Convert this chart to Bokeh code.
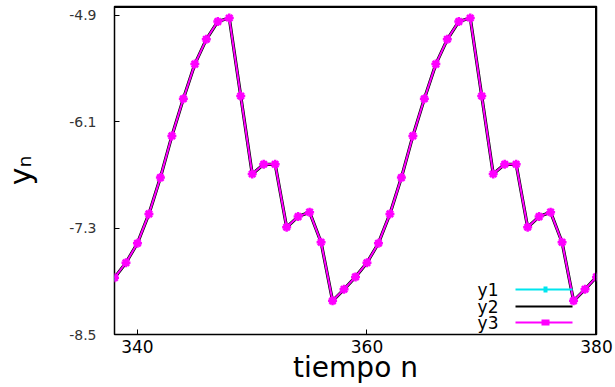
from bokeh.plotting import figure
from bokeh.models import Range1d, FixedTicker, Label, BoxAnnotation
from bokeh.embed import file_html
from bokeh.resources import INLINE

# ---- data ----
n = list(range(338, 381))
y1 = [-7.86, -7.69, -7.47, -7.14, -6.73, -6.26, -5.84, -5.45, -5.17, -4.97, -4.93,
      -5.81, -6.69, -6.58, -6.58, -7.29, -7.17, -7.12, -7.46, -8.12, -7.99,
      -7.85, -7.69, -7.47, -7.14, -6.73, -6.26, -5.84, -5.45, -5.17, -4.97, -4.93,
      -5.81, -6.69, -6.58, -6.58, -7.29, -7.17, -7.12, -7.46, -8.12, -7.99, -7.85]
y2 = [-7.86, -7.69, -7.47, -7.14, -6.73, -6.26, -5.84, -5.45, -5.17, -4.97, -4.93,
      -5.81, -6.69, -6.58, -6.58, -7.29, -7.17, -7.12, -7.46, -8.12, -7.99,
      -7.85, -7.69, -7.47, -7.14, -6.73, -6.26, -5.84, -5.45, -5.17, -4.97, -4.93,
      -5.81, -6.69, -6.58, -6.58, -7.29, -7.17, -7.12, -7.46, -8.12, -7.99, -7.85]
y3 = [-7.86, -7.69, -7.47, -7.14, -6.73, -6.26, -5.84, -5.45, -5.17, -4.97, -4.93,
      -5.81, -6.69, -6.58, -6.58, -7.29, -7.17, -7.12, -7.46, -8.12, -7.99,
      -7.85, -7.69, -7.47, -7.14, -6.73, -6.26, -5.84, -5.45, -5.17, -4.97, -4.93,
      -5.81, -6.69, -6.58, -6.58, -7.29, -7.17, -7.12, -7.46, -8.12, -7.99, -7.85]
x_ticks = [340, 360, 380]
y_ticks = [-8.5, -7.3, -6.1, -4.9]
x_lim = (338, 380)
y_lim = (-8.5, -4.80)
series_names = ["y1", "y2", "y3"]
series_colors = ["#00e5ee", "black", "#ff00ff"]

FONT = "DejaVu Sans"
W, H = 615, 387

p = figure(width=W, height=H, output_backend="svg", toolbar_location=None,
           x_range=Range1d(*x_lim), y_range=Range1d(*y_lim),
           min_border_left=113, min_border_right=19, min_border_top=6,
           min_border_bottom=53)
p.background_fill_color = "white"
p.border_fill_color = "white"
p.outline_line_color = "black"
p.outline_line_width = 1.5
p.xgrid.visible = False
p.ygrid.visible = False

p.xaxis.ticker = FixedTicker(ticks=x_ticks)
p.yaxis.ticker = FixedTicker(ticks=y_ticks)
p.yaxis.major_label_overrides = {v: "%.1f" % v for v in y_ticks}
for ax in (p.xaxis, p.yaxis):
    ax.axis_line_color = None
    ax.major_tick_in = 5
    ax.major_tick_out = 0
    ax.minor_tick_line_color = None
    ax.major_tick_line_color = "black"
    ax.major_label_text_font = FONT
p.xaxis.major_label_text_font_size = "17px"
p.xaxis.major_label_text_color = "black"
p.xaxis.major_label_standoff = 5
p.yaxis.major_label_text_font_size = "14px"
p.yaxis.major_label_text_color = "#333333"
p.yaxis.major_label_standoff = 18

p.xaxis.axis_label = "tiempo n"
p.xaxis.axis_label_text_font = FONT
p.xaxis.axis_label_text_font_size = "28px"
p.xaxis.axis_label_text_font_style = "normal"
p.xaxis.axis_label_text_color = "black"
p.xaxis.axis_label_standoff = -5

p.yaxis.axis_label = "y\u2099"
p.yaxis.axis_label_text_font = FONT
p.yaxis.axis_label_text_font_size = "30px"
p.yaxis.axis_label_text_font_style = "normal"
p.yaxis.axis_label_text_color = "black"
p.yaxis.axis_label_standoff = 28


def band(left, right, bottom, top, color):
    return BoxAnnotation(left=left, right=right, bottom=bottom, top=top,
                         left_units="screen", right_units="screen",
                         bottom_units="screen", top_units="screen",
                         fill_color=color, fill_alpha=1, line_color=None)


# frame border: top and right edges as thin filled bands (data units, inside frame)
p.add_layout(BoxAnnotation(left=x_lim[0], right=x_lim[1],
                           bottom=y_lim[1] - 0.018, top=y_lim[1],
                           fill_color="black", fill_alpha=1, line_color=None))
p.add_layout(BoxAnnotation(left=x_lim[1] - 0.13, right=x_lim[1],
                           bottom=y_lim[0], top=y_lim[1],
                           fill_color="black", fill_alpha=1, line_color=None))

# series
p.line(n, y1, line_color=series_colors[0], line_width=2)
p.scatter(n, y1, marker="square", size=5, fill_color=series_colors[0],
          line_color=series_colors[0])
p.line(n, y2, line_color=series_colors[1], line_width=3.2)
p.line(n, y3, line_color=series_colors[2], line_width=2)
p.scatter(n, y3, marker="asterisk", size=9, line_color=series_colors[2],
          line_width=2.5)

# legend (gnuplot style: label left, sample right)
leg_y = [45, 28, 12]
for name, col, yy in zip(series_names, series_colors, leg_y):
    p.add_layout(Label(x=384, y=yy, x_units="screen", y_units="screen", text=name,
                       text_align="right", text_baseline="middle",
                       text_font=FONT, text_font_size="17px", text_color="black"))
    p.add_layout(band(401, 458, yy - 1, yy + 1, col))
p.add_layout(band(429, 433, leg_y[0] - 3, leg_y[0] + 3, series_colors[0]))
p.add_layout(band(427, 435, leg_y[2] - 3, leg_y[2] + 3, series_colors[2]))

open("out.html", "w").write(file_html(p, INLINE))
